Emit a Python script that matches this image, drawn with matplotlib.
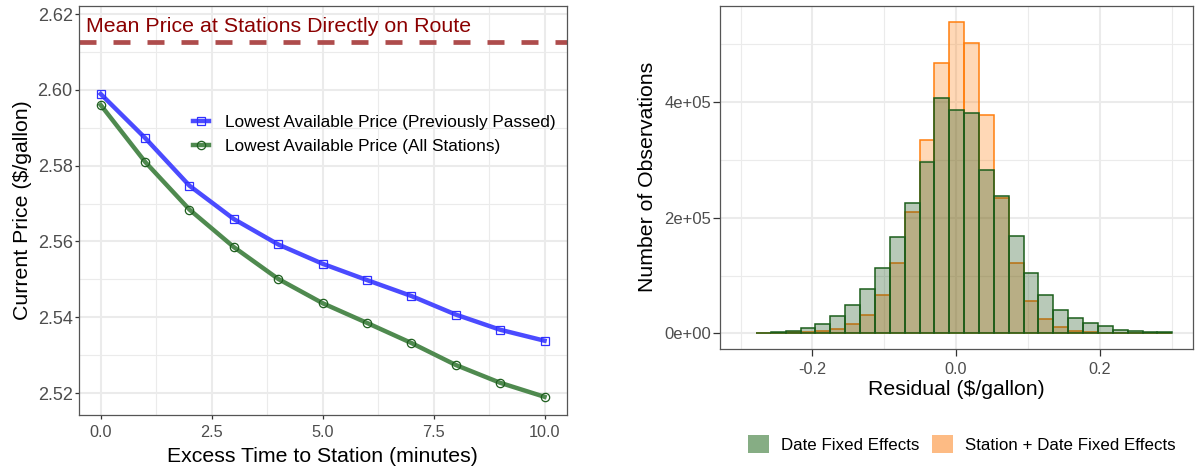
import numpy as np
import matplotlib
matplotlib.use("Agg")
import matplotlib.pyplot as plt
from matplotlib.patches import Patch
from matplotlib.ticker import MultipleLocator, FuncFormatter

plt.rcParams['font.family'] = ['Liberation Sans', 'DejaVu Sans']

# price vs excess time
minutes = [0, 1, 2, 3, 4, 5, 6, 7, 8, 9, 10]
price_passed = [2.5989, 2.5873, 2.5747, 2.5659, 2.5592, 2.5541, 2.5498, 2.5456, 2.5407, 2.5367, 2.5338]
price_all = [2.5960, 2.5810, 2.5684, 2.5585, 2.5501, 2.5437, 2.5385, 2.5332, 2.5274, 2.5227, 2.5190]
mean_on_route = 2.6125

# residual histograms (28 bins)
bin_lo = -0.2785
bin_w = 0.0207
n_bins = 28
count_date_fe = [300, 1700, 4600, 8600, 16400, 29900, 48500, 77000, 113800, 167000,
                 224700, 296000, 406900, 386200, 380500, 283300, 237400, 169000,
                 104300, 67200, 40200, 26400, 17200, 12600, 6300, 4600, 2900, 1700]
count_station_date_fe = [100, 600, 2300, 2300, 4000, 7700, 16400, 32500, 65800, 122400,
                         210300, 335000, 467800, 538500, 501700, 377600, 233300, 121800,
                         56600, 24700, 10300, 4600, 2300, 1100, 600, 300, 200, 100]

grid_major = '#EBEBEB'
border = '#555555'
tick_col = '#4D4D4D'


def style_axes(ax):
    ax.set_axisbelow(True)
    ax.grid(True, which='major', color=grid_major, lw=1.5)
    ax.grid(True, which='minor', color=grid_major, lw=0.8)
    for s in ax.spines.values():
        s.set_color(border)
        s.set_linewidth(0.9)
    ax.tick_params(which='major', length=3, width=0.9, color='#333333',
                   labelcolor=tick_col, labelsize=11.7)
    ax.tick_params(which='minor', length=0)
    ax.tick_params(axis='x', pad=4.5)
    ax.tick_params(axis='y', pad=1.5)


fig = plt.figure(figsize=(11.98, 4.68), dpi=100)

# left panel
ax1 = fig.add_axes([0.06594, 0.11325, 0.40710, 0.87457])
style_axes(ax1)
ax1.tick_params(axis='y', labelsize=13)
ax1.axhline(mean_on_route, color='#AE4C4C', lw=3.4, linestyle=(0, (3.6, 3.6)))
ax1.text(-0.33, 2.6152, 'Mean Price at Stations Directly on Route',
         color='#8B0000', fontsize=15.4, va='baseline', ha='left')

ax1.plot(minutes, price_passed, color='#4B4BFF', lw=3.2, marker='s', ms=6.3,
         mfc='none', mec='#3030FF', mew=0.9,
         label='Lowest Available Price (Previously Passed)')
ax1.plot(minutes, price_all, color='#4F8A4F', lw=3.2, marker='o', ms=6.0,
         mfc='none', mec='#1E5E1E', mew=0.9,
         label='Lowest Available Price (All Stations)')

ax1.set_xlim(-0.49, 10.5)
ax1.set_ylim(2.5142, 2.6222)
ax1.xaxis.set_major_locator(MultipleLocator(2.5))
ax1.xaxis.set_minor_locator(MultipleLocator(1.25))
ax1.yaxis.set_major_locator(MultipleLocator(0.02))
ax1.yaxis.set_minor_locator(MultipleLocator(0.01))
ax1.xaxis.set_major_formatter(FuncFormatter(lambda v, p: f'{v:.1f}'))
ax1.yaxis.set_major_formatter(FuncFormatter(lambda v, p: f'{v:.2f}'))
ax1.set_xlabel('Excess Time to Station (minutes)', fontsize=15.3, labelpad=5)
ax1.set_ylabel('Current Price ($/gallon)', fontsize=15.3, labelpad=4)

ax1.legend(loc='upper left', bbox_to_anchor=(193 / 1198, 1 - 115 / 468),
           bbox_transform=fig.transFigure, frameon=False, fontsize=12.4,
           borderpad=0, borderaxespad=0, handlelength=0.93, handletextpad=0.9,
           labelspacing=0.5, numpoints=1)

# right panel
ax2 = fig.add_axes([0.60100, 0.25427, 0.39457, 0.73355])
style_axes(ax2)
edges = bin_lo + bin_w * np.arange(n_bins + 1)
ax2.bar(edges[:-1], count_station_date_fe, width=bin_w, align='edge',
        facecolor=(1.0, 0.5, 0.055, 0.3), edgecolor='#FF7F0E', lw=1.1)
ax2.bar(edges[:-1], count_date_fe, width=bin_w, align='edge',
        facecolor=(0.08, 0.31, 0.08, 0.3), edgecolor='#1B5E1B', lw=1.1)

ax2.set_xlim(-0.3286, 0.3295)
ax2.set_ylim(-26900, 566600)
ax2.xaxis.set_major_locator(MultipleLocator(0.2))
ax2.xaxis.set_minor_locator(MultipleLocator(0.1))
ax2.yaxis.set_major_locator(MultipleLocator(200000))
ax2.yaxis.set_minor_locator(MultipleLocator(100000))
ax2.xaxis.set_major_formatter(FuncFormatter(lambda v, p: f'{v:.1f}'))
ax2.yaxis.set_major_formatter(FuncFormatter(lambda v, p: f'{v:.0e}'))
ax2.tick_params(which='major', length=5)
ax2.tick_params(axis='y', labelsize=12)
ax2.set_xlabel('Residual ($/gallon)', fontsize=15.3, labelpad=2)
ax2.set_ylabel('Number of Observations', fontsize=15.3, labelpad=5)

handles = [Patch(facecolor='#86AD84', edgecolor='none'),
           Patch(facecolor='#FDBB84', edgecolor='none')]
fig.legend(handles, ['Date Fixed Effects', 'Station + Date Fixed Effects'],
           loc='center', bbox_to_anchor=(962 / 1198, 1 - 444 / 468),
           ncol=2, frameon=False, fontsize=12.2, handlelength=1.25,
           handleheight=1.25, handletextpad=0.7, columnspacing=0.75,
           borderpad=0)

fig.savefig('out.png', dpi=100)
